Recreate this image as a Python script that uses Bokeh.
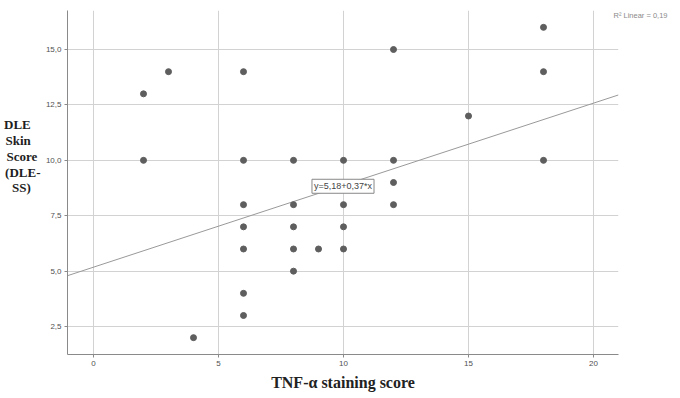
from bokeh.plotting import figure
from bokeh.models import Range1d, FixedTicker, Label, LinearAxis
from bokeh.embed import file_html
from bokeh.resources import INLINE

# data
tnf_score = [2, 2, 3, 4, 6, 6, 6, 6, 6, 6, 6, 8, 8, 8, 8, 8, 9, 10, 10, 10, 10, 12, 12, 12, 12, 15, 18, 18, 18]
dle_ss = [13, 10, 14, 2, 14, 10, 8, 7, 6, 4, 3, 10, 8, 7, 6, 5, 6, 10, 8, 7, 6, 15, 10, 9, 8, 12, 16, 14, 10]
intercept = 5.18
slope = 0.37
r2_text = "R\u00b2 Linear = 0,19"
eq_text = "y=5,18+0,37*x"
x_ticks = [0, 5, 10, 15, 20]
y_ticks = [2.5, 5.0, 7.5, 10.0, 12.5, 15.0]
y_tick_labels = ["2,5", "5,0", "7,5", "10,0", "12,5", "15,0"]
y_label_lines = ["DLE\u00a0\u00a0\u00a0", "Skin\u00a0\u00a0\u00a0", "Score\u00a0", "(DLE-", "SS)\u00a0\u00a0\u00a0"]

x0, x1 = -1.04, 21.0
y0, y1 = 1.24, 16.76

p = figure(width=680, height=398, output_backend="svg", toolbar_location=None,
           x_range=Range1d(x0, x1), y_range=Range1d(y0, y1),
           min_border_left=67, min_border_right=62, min_border_top=10, min_border_bottom=44)
p.outline_line_color = None
p.background_fill_color = "white"
p.border_fill_color = "white"

for g in (p.xgrid[0], p.ygrid[0]):
    g.grid_line_color = "#d2d2d2"
    g.grid_line_width = 1
p.xgrid[0].ticker = FixedTicker(ticks=x_ticks)
p.ygrid[0].ticker = FixedTicker(ticks=y_ticks)

xa = p.xaxis[0]
ya = p.yaxis[0]
xa.ticker = FixedTicker(ticks=x_ticks)
ya.ticker = FixedTicker(ticks=y_ticks)
ya.major_label_overrides = {t: l for t, l in zip(y_ticks, y_tick_labels)}
for ax in (xa, ya):
    ax.axis_line_color = "#8a8a8a"
    ax.axis_line_width = 1
    ax.major_tick_line_color = "#8a8a8a"
    ax.major_tick_in = 0
    ax.major_tick_out = 3
    ax.minor_tick_line_color = None
    ax.major_label_text_font = "Liberation Sans"
    ax.major_label_text_font_size = "8px"
    ax.major_label_text_color = "#505050"
    ax.major_label_standoff = 3
ya.axis_label_standoff = 0

xa.axis_label = "TNF-\u03b1 staining score"
xa.axis_label_text_font = "Liberation Serif"
xa.axis_label_text_font_style = "bold"
xa.axis_label_text_font_size = "16px"
xa.axis_label_text_color = "#222222"
xa.axis_label_standoff = 5

# y axis title, one line per tick of a bare extra axis
y_line_pos = [11.62, 10.90, 10.17, 9.45, 8.77]
title_axis = LinearAxis(ticker=FixedTicker(ticks=y_line_pos),
                        major_label_overrides={t: l for t, l in zip(y_line_pos, y_label_lines)},
                        axis_line_color=None, major_tick_line_color=None, minor_tick_line_color=None,
                        major_tick_out=0, major_tick_in=0, axis_label_standoff=0,
                        major_label_standoff=2,
                        major_label_text_font="Liberation Serif", major_label_text_font_style="bold",
                        major_label_text_font_size="13px", major_label_text_color="#1e1e1e")
p.add_layout(title_axis, "left")

# R2 text on a bare right axis
r2_pos = [16.53]
r2_axis = LinearAxis(ticker=FixedTicker(ticks=r2_pos), major_label_overrides={r2_pos[0]: r2_text},
                     axis_line_color=None, major_tick_line_color=None, minor_tick_line_color=None,
                     major_tick_out=0, major_tick_in=0, axis_label_standoff=0,
                     major_label_standoff=-5,
                     major_label_text_font="Liberation Sans", major_label_text_font_size="7.5px",
                     major_label_text_color="#8a8a8a")
p.add_layout(r2_axis, "right")

# regression line
lx = [x0, x1]
ly = [intercept + slope * v for v in lx]
p.line(lx, ly, line_color="#999999", line_width=1)

# points
p.scatter(tnf_score, dle_ss, size=6, fill_color="#5e5e5e", line_color="#5e5e5e")

# equation box
p.add_layout(Label(x=9.98, y=8.83, text=eq_text, text_align="center", text_baseline="middle",
                   text_font="Liberation Sans", text_font_size="9px", text_color="#444444",
                   background_fill_color="white", border_line_color="#888888", padding=2))

open("out.html", "w").write(file_html(p, INLINE))
